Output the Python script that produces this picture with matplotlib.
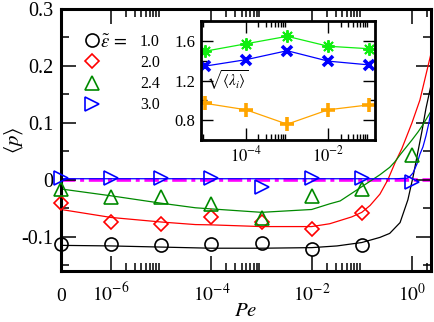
import numpy as np
import matplotlib
matplotlib.use("Agg")
import matplotlib.pyplot as plt
from matplotlib.ticker import FixedLocator, FixedFormatter, NullFormatter

plt.rcParams["font.family"] = ["Liberation Serif", "DejaVu Serif"]
plt.rcParams["mathtext.fontset"] = "stix"

PE_ZERO = 1e-7   # where Pe = 0 sits on the log axis

# ---- main panel: simulation points ------------------------------------------
pe_pts = np.array([0, 1e-6, 1e-5, 1e-4, 1e-3, 1e-2, 1e-1, 1.0])
p_eps10 = [-0.113, -0.112, -0.115, -0.113, -0.110, -0.121, -0.115]
p_eps20 = [-0.040, -0.074, -0.077, -0.065, -0.074, -0.087, -0.058]
p_eps24 = [-0.016, -0.030, -0.030, -0.042, -0.067, -0.029, -0.016, 0.044]
p_eps30 = [0.003, 0.003, 0.003, 0.004, -0.012, 0.003, 0.004, -0.004]

# ---- main panel: fit curves -------------------------------------------------
fit10_pe = [0, 1e-6, 1e-5, 1e-4, 1e-3, 1e-2, 0.032, 0.1, 0.23, 0.36, 0.58,
            0.83, 1.05, 1.32, 1.58, 1.9, 2.45]
fit10_p = [-0.115, -0.116, -0.118, -0.120, -0.120, -0.119, -0.116, -0.110,
           -0.101, -0.094, -0.075, -0.035, 0.005, 0.050, 0.085, 0.125, 0.170]
fit20_pe = [0, 1e-6, 1e-5, 4.8e-5, 1e-4, 1e-3, 1e-2, 0.023, 0.063, 0.1, 0.146,
            0.23, 0.33, 0.46, 0.63, 1.0, 1.44, 2.45]
fit20_p = [-0.052, -0.066, -0.074, -0.0785, -0.079, -0.082, -0.082, -0.077,
           -0.065, -0.057, -0.045, -0.025, 0.0, 0.030, 0.055, 0.100, 0.140, 0.225]
fit24_pe = [0, 1e-6, 1e-5, 4.8e-5, 1e-4, 1e-3, 1e-2, 0.023, 0.037, 0.1, 0.23,
            0.36, 0.46, 0.58, 0.73, 1.0, 1.32, 1.66, 2.45]
fit24_p = [-0.016, -0.028, -0.041, -0.049, -0.051, -0.057, -0.052, -0.042,
           -0.037, -0.012, 0.009, 0.022, 0.032, 0.044, 0.055, 0.070, 0.084,
           0.097, 0.122]
fit30_pe = [0, 1e-6, 1e-4, 1e-2, 0.5, 0.8, 0.91, 1.05, 1.26, 1.44, 1.66, 1.9,
            2.18, 2.5]
fit30_p = [0.002, 0.002, 0.002, 0.002, 0.002, 0.003, 0.006, 0.012, 0.028,
           0.045, 0.058, 0.077, 0.100, 0.130]

eps_labels = ["1.0", "2.0", "2.4", "3.0"]

# ---- inset: sqrt(<lambda_i>) -------------------------------------------------
pe_in = [1e-5, 1e-4, 1e-3, 1e-2, 1e-1]
lam1 = [1.495, 1.57, 1.645, 1.545, 1.52]
lam2 = [1.345, 1.41, 1.50, 1.395, 1.357]
lam3 = [0.97, 0.905, 0.76, 0.905, 0.955]


def xpos(pe):
    pe = np.asarray(pe, dtype=float)
    return np.where(pe == 0, PE_ZERO, pe)


BLACK, RED, GREEN, BLUE = "black", "#ff0000", "#008a00", "#0000ff"

fig = plt.figure(figsize=(4.35, 3.22), dpi=100)
ax = fig.add_axes([0.1402, 0.1584, 0.8506, 0.8136])

ax.axhline(0.0, color="#ff00ff", lw=2.6, ls=(0, (4, 1.3, 1.1, 1.3)), zorder=1)

for fpe, fp, c in [(fit10_pe, fit10_p, BLACK), (fit20_pe, fit20_p, RED),
                   (fit24_pe, fit24_p, GREEN), (fit30_pe, fit30_p, BLUE)]:
    ax.plot(xpos(fpe), fp, color=c, lw=0.9, zorder=2)

mk = dict(ls="none", mfc="none", mew=1.2, clip_on=False, zorder=3)
h1, = ax.plot(xpos(pe_pts[:7]), p_eps10, marker="o", ms=9.4, mec=BLACK, **mk)
h2, = ax.plot(xpos(pe_pts[:7]), p_eps20, marker="D", ms=7.3, mec=RED, **mk)
h3, = ax.plot(xpos(pe_pts), p_eps24, marker="^", ms=9.8, mec=GREEN, **mk)
h4, = ax.plot(xpos(pe_pts), p_eps30, marker=">", ms=9.8, mec=BLUE, **mk)

ax.set_xscale("log")
ax.set_xlim(PE_ZERO, 2.4)
ax.set_ylim(-0.16, 0.3)

ax.xaxis.set_major_locator(FixedLocator([PE_ZERO, 1e-6, 1e-4, 1e-2, 1.0]))
ax.xaxis.set_major_formatter(FixedFormatter(
    ["0", "$10^{-6}$", "$10^{-4}$", "$10^{-2}$", "$10^{0}$"]))
ax.xaxis.set_minor_locator(FixedLocator(
    [k * 10.0 ** e for e in (-6, -4, -2, 0) for k in range(2, 10)]))
ax.xaxis.set_minor_formatter(NullFormatter())
ax.yaxis.set_major_locator(FixedLocator([-0.1, 0, 0.1, 0.2, 0.3]))
ax.yaxis.set_major_formatter(FixedFormatter(["-0.1", "0", "0.1", "0.2", "0.3"]))
ax.yaxis.set_minor_locator(FixedLocator([-0.15, -0.05, 0.05, 0.15, 0.25]))

ax.tick_params(which="both", direction="in", top=True, right=True, width=1.1)
ax.tick_params(which="major", length=11)
ax.tick_params(which="minor", length=5.5)
ax.tick_params(axis="y", labelsize=14.5, pad=5.5)
ax.tick_params(axis="x", labelsize=14, pad=21.5)
for t in ax.xaxis.get_major_ticks():
    t.label1.set_va("baseline")
for sp in ax.spines.values():
    sp.set_linewidth(2.2)

ax.set_xlabel("$Pe$", fontsize=15)
ax.xaxis.set_label_coords(0.5, -0.118)
ax.set_ylabel(r"$\langle p\rangle$", fontsize=15)
ax.yaxis.set_label_coords(-0.098, 0.5)

leg = ax.legend([h1, h2, h3, h4], eps_labels, loc="upper left",
                bbox_to_anchor=(0.062, 0.905), frameon=False, fontsize=11.5,
                handlelength=1.0, handletextpad=2.5, labelspacing=0.32,
                borderpad=0, borderaxespad=0, numpoints=1)
ax.text(0.105, 0.868, r"$\tilde{\epsilon}\,=$", transform=ax.transAxes,
        fontsize=13.5, ha="left", va="center")

# ---- inset -------------------------------------------------------------------
axi = fig.add_axes([0.462, 0.565, 0.400, 0.370])
axi.plot(pe_in, lam1, color="#10ee10", lw=0.9, marker=(8, 2, 0), ms=9, mew=1.4)
axi.plot(pe_in, lam2, color=BLUE, lw=0.9, marker="x", ms=7.5, mew=2.6)
axi.plot(pe_in, lam3, color="#ffa500", lw=0.9, marker="+", ms=9.5, mew=2.6)
axi.set_xscale("log")
axi.set_xlim(10 ** -5.1, 10 ** -0.86)
axi.set_ylim(0.6, 1.8)
axi.xaxis.set_major_locator(FixedLocator([1e-4, 1e-2]))
axi.xaxis.set_major_formatter(FixedFormatter(["$10^{-4}$", "$10^{-2}$"]))
axi.xaxis.set_minor_locator(FixedLocator(
    [k * 10.0 ** e for e in (-6, -4, -2) for k in range(2, 10)]))
axi.xaxis.set_minor_formatter(NullFormatter())
axi.yaxis.set_major_locator(FixedLocator([0.8, 1.2, 1.6]))
axi.yaxis.set_major_formatter(FixedFormatter(["0.8", "1.2", "1.6"]))
axi.yaxis.set_minor_locator(FixedLocator([0.6, 1.0, 1.4, 1.8]))
axi.tick_params(which="both", direction="in", top=True, right=True, width=1.0)
axi.tick_params(which="major", length=8.5, labelsize=12, pad=4)
axi.tick_params(which="minor", length=4.5)
for sp in axi.spines.values():
    sp.set_linewidth(2.0)
axi.text(0.03, 0.50, r"$\sqrt{\langle\lambda_i\rangle}$", transform=axi.transAxes,
         fontsize=11, ha="left", va="center")

fig.savefig("out.png", dpi=100)
